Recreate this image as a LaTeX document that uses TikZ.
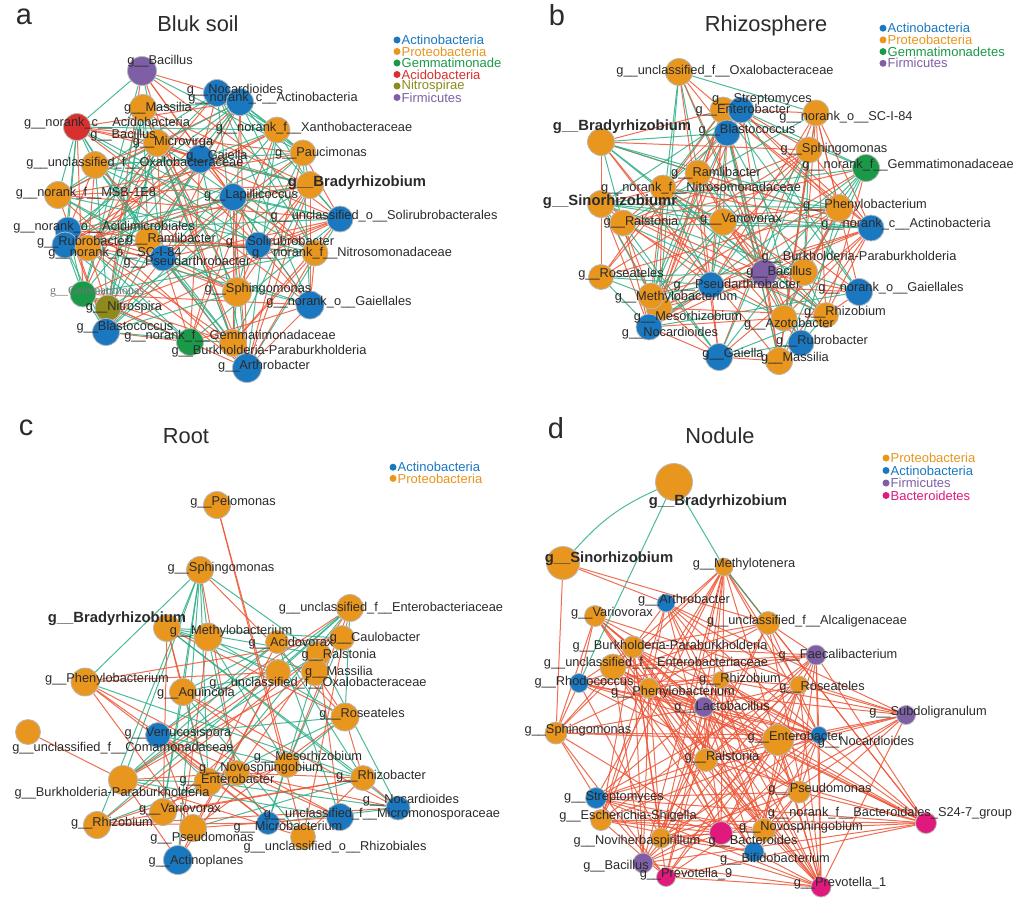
\documentclass[tikz,border=0pt]{standalone}
\usepackage{fontspec}
\setmainfont{Liberation Sans}
\newfontfamily\faintfamily{Liberation Serif}
\usepackage{tikz}
\usetikzlibrary{backgrounds}
\definecolor{actino}{HTML}{1A78C0}
\definecolor{proteo}{HTML}{E8961E}
\definecolor{gemma}{HTML}{1A9A48}
\definecolor{acido}{HTML}{D7302F}
\definecolor{nitro}{HTML}{8E8A1E}
\definecolor{firmi}{HTML}{7E5FA6}
\definecolor{bacter}{HTML}{E0197D}
\definecolor{linkgreen}{HTML}{2FAE86}
\definecolor{linkred}{HTML}{EE5535}
\definecolor{labink}{HTML}{2B2B2B}
\newcommand\labfont{\fontsize{12.8}{14}\selectfont}
\newcommand\boldlab{\fontsize{14.8}{16}\selectfont\bfseries}
\newcommand\faintlab{\faintfamily\fontsize{12}{13}\selectfont\color{black!55}}
\tikzset{
  taxon/.style={circle, draw=black!28, line width=0.8pt, inner sep=0pt, minimum size=#1},
  taxon/.default=27,
  gname/.style={font=\labfont, text=labink, inner sep=0pt},
  poslink/.style={draw=linkgreen, line width=1pt, opacity=0.85},
  neglink/.style={draw=linkred, line width=1pt, opacity=0.85},
  paneltag/.style={font=\fontsize{29}{30}\selectfont, text=labink},
  paneltitle/.style={font=\fontsize{21.8}{24}\selectfont, text=labink, anchor=base},
  legdot/.style={circle, inner sep=0pt, minimum size=7pt},
  legtext/.style={font=\fontsize{13}{13}\selectfont, anchor=west, inner sep=0pt}
}
% circles, then names, of one net
\newcommand{\placetaxa}[1]{%
  \foreach \n/\x/\y/\c/\s/\lx/\ly/\t in #1 {\node[taxon=\s, fill=\c] (\n) at (\x,\y) {};}}
\newcommand{\nametaxa}[1]{%
  \foreach \n/\x/\y/\c/\s/\lx/\ly/\t in #1 {\node[gname] (\n-t) at (\lx,\ly) {\t};}}
% random co-occurrence links between all nodes of one net
\newcommand{\linkall}[4]{%
  \pgfmathsetseed{#4}%
  \foreach \u [count=\i] in #1 {%
    \foreach \v [count=\j] in #1 {%
      \pgfmathrandominteger{\linkdice}{1}{100}%
      \pgfmathrandominteger{\linksign}{1}{100}%
      \pgfmathtruncatemacro{\linkon}{(\j>\i)&&(\linkdice<#2)}%
      \pgfmathtruncatemacro{\linkpos}{\linksign<#3}%
      \ifnum\linkon=1
        \ifnum\linkpos=1
          \draw[poslink] (\u) -- (\v);
        \else
          \draw[neglink] (\u) -- (\v);
        \fi
      \fi}}}

\def\taxaA{aBac/142/71/firmi/29/160/61/g\_\_Bacillus,
  aNoc/217/93/actino/27/235/90/g\_\_Nocardioides,
  aAct/240/102/actino/27/273/98/g\_\_norank\_c\_\_Actinobacteria,
  aMas/143/108/proteo/27/158/108/g\_\_Massilia,
  aAci/77/127/acido/27/107/123/g\_\_norank\_c\_\_Acidobacteria,
  aMic/157/143/proteo/27/173/142/g\_\_Microvirga,
  aXan/277/130/proteo/26/314/128/g\_\_norank\_f\_\_Xanthobacteraceae,
  aGae/200/159/actino/28/217/156/g\_\_Gaiella,
  aPau/303/153/proteo/26/321/153/g\_\_Paucimonas,
  aOxa/95/165/proteo/27/135/163/g\_\_unclassified\_f\_\_Oxalobacteraceae,
  aBra/310/185/proteo/27/357/183/\boldlab g\_\_Bradyrhizobium,
  aMSB/58/195/proteo/27/86/193/g\_\_norank\_f\_\_MSB-1E8,
  aLap/233/197/actino/27/251/195/g\_\_Lapillicoccus,
  aSol/340/219/actino/26/384/216/g\_\_unclassified\_o\_\_Solirubrobacterales,
  aAcm/68/230/actino/26/104/227/g\_\_norank\_o\_\_Acidimicrobiales,
  aRub/65/245/actino/26/83/242/g\_\_Rubrobacter,
  aSCI/88/248/proteo/26/115/253/g\_\_norank\_o\_\_SC-I-84,
  aRam/148/240/proteo/26/171/239/g\_\_Ramlibacter,
  aPse/163/258/actino/26/187/262/g\_\_Pseudarthrobacter,
  aSrb/258/245/actino/26/280/242/g\_\_Solirubrobacter,
  aNit/315/253/proteo/26/352/253/g\_\_norank\_f\_\_Nitrosomonadaceae,
  aGmm/83/294/gemma/26/97/292/\faintlab g\_\_Gemmatimonas,
  aNsp/108/308/nitro/26/124/307/g\_\_Nitrospira,
  aSph/237/292/proteo/29/258/289/g\_\_Sphingomonas,
  aGll/310/305/actino/28/339/302/g\_\_norank\_o\_\_Gaiellales,
  aBla/106/332/actino/27/125/327/g\_\_Blastococcus,
  aGmd/190/342/gemma/27/230/336/g\_\_norank\_f\_\_Gemmatimonadaceae,
  aBur/233/343/proteo/27/269/351/g\_\_Burkholderia-Paraburkholderia,
  aArt/247/368/actino/29/264/366/g\_\_Arthrobacter}
\def\netA{aBac,aNoc,aAct,aMas,aAci,aMic,aXan,aGae,aPau,aOxa,aBra,aMSB,aLap,aSol,aAcm,
  aRub,aSCI,aRam,aPse,aSrb,aNit,aGmm,aNsp,aSph,aGll,aBla,aGmd,aBur,aArt}

\def\taxaB{bOxa/679/72/proteo/27/725/71/g\_\_unclassified\_f\_\_Oxalobacteraceae,
  bEnt/723/110/proteo/26/743/110/g\_\_Enterobacter,
  bStr/741/110/actino/26/762/99/g\_\_Streptomyces,
  bSCI/816/113/proteo/26/846/117/g\_\_norank\_o\_\_SC-I-84,
  bBla/727/133/actino/26/747/130/g\_\_Blastococcus,
  bBra/601/142/proteo/27/622/127/\boldlab g\_\_Bradyrhizobium,
  bSph/809/150/proteo/26/834/149/g\_\_Sphingomonas,
  bGmd/866/168/gemma/27/908/165/g\_\_norank\_f\_\_Gemmatimonadaceae,
  bRam/698/173/proteo/26/716/173/g\_\_Ramlibacter,
  bNit/663/188/proteo/26/701/188/g\_\_norank\_f\_\_Nitrosomonadaceae,
  bSin/601/204/proteo/27/610/202/\boldlab g\_\_Sinorhizobiumr,
  bPhe/839/208/proteo/27/865/205/g\_\_Phenylobacterium,
  bRal/623/223/proteo/26/641/222/g\_\_Ralstonia,
  bVar/723/222/proteo/27/741/219/g\_\_Variovorax,
  bAct/871/228/actino/26/906/224/g\_\_norank\_c\_\_Actinobacteria,
  bBur/804/272/proteo/27/859/257/g\_\_Burkholderia-Paraburkholderia,
  bBac/764/273/firmi/27/779/272/g\_\_Bacillus,
  bRos/601/277/proteo/25/621/274/g\_\_Roseateles,
  bPse/711/285/actino/26/737/285/g\_\_Pseudarthrobacter,
  bGll/859/292/actino/27/891/288/g\_\_norank\_o\_\_Gaiellales,
  bMes/659/308/proteo/26/688/317/g\_\_Mesorhizobium,
  bMet/651/296/proteo/26/676/297/g\_\_Methylobacterium,
  bRhi/826/315/proteo/25/845/312/g\_\_Rhizobium,
  bAzo/784/318/proteo/26/789/324/g\_\_Azotobacter,
  bNoc/649/327/actino/26/670/333/g\_\_Nocardioides,
  bRub/801/343/actino/26/822/341/g\_\_Rubrobacter,
  bGae/719/357/actino/27/733/354/g\_\_Gaiella,
  bMas/779/361/proteo/27/795/358/g\_\_Massilia}
\def\netB{bOxa,bEnt,bStr,bSCI,bBla,bBra,bSph,bGmd,bRam,bNit,bSin,bPhe,bRal,bVar,bAct,
  bBur,bBac,bRos,bPse,bGll,bMes,bMet,bRhi,bAzo,bNoc,bRub,bGae,bMas}

\def\taxaC{cPel/217/505/proteo/27/233/502/g\_\_Pelomonas,
  cSph/200/570/proteo/27/221/568/g\_\_Sphingomonas,
  cEnb/350/608/proteo/27/391/608/g\_\_unclassified\_f\_\_Enterobacteriaceae,
  cBra/167/628/proteo/27/117/619/\boldlab g\_\_Bradyrhizobium,
  cMet/208/637/proteo/28/231/631/g\_\_Methylobacterium,
  cAcv/277/642/proteo/23/291/643/g\_\_Acidovorax,
  cCau/342/638/proteo/25/375/638/g\_\_Caulobacter,
  cRal/318/654/proteo/25/339/655/g\_\_Ralstonia,
  cOxa/278/672/proteo/25/318/683/g\_\_unclassified\_f\_\_Oxalobacteraceae,
  cMas/315/672/proteo/27/339/672/g\_\_Massilia,
  cPhe/85/682/proteo/28/107/679/g\_\_Phenylobacterium,
  cAqu/183/692/proteo/27/196/693/g\_\_Aquincola,
  cRos/345/717/proteo/28/362/714/g\_\_Roseateles,
  cCom/28/732/proteo/25/123/748/g\_\_unclassified\_f\_\_Comamonadaceae,
  cVer/158/735/actino/25/178/733/g\_\_Verrucosispora,
  cMes/287/765/proteo/25/308/757/g\_\_Mesorhizobium,
  cNov/237/773/proteo/25/261/768/g\_\_Novosphingobium,
  cEnt/208/782/proteo/28/227/780/g\_\_Enterobacter,
  cRhb/363/778/proteo/25/381/776/g\_\_Rhizobacter,
  cBur/123/780/proteo/29/112/793/g\_\_Burkholderia-Paraburkholderia,
  cVar/163/812/proteo/27/180/809/g\_\_Variovorax,
  cNoc/398/808/actino/24/411/800/g\_\_Nocardioides,
  cMmo/340/817/actino/27/382/814/g\_\_unclassified\_f\_\_Micromonosporaceae,
  cRhz/97/825/proteo/27/112/823/g\_\_Rhizobium,
  cMcb/268/823/actino/23/288/827/g\_\_Microbacterium,
  cPsd/193/828/proteo/27/202/838/g\_\_Pseudomonas,
  cRhl/303/837/proteo/25/335/847/g\_\_unclassified\_o\_\_Rhizobiales,
  cAcp/178/860/actino/29/196/861/g\_\_Actinoplanes}
\def\netC{cSph,cEnb,cBra,cMet,cAcv,cCau,cRal,cOxa,cMas,cPhe,cAqu,cRos,cVer,cMes,cNov,
  cEnt,cRhb,cBur,cVar,cNoc,cMmo,cRhz,cMcb,cPsd,cRhl,cAcp}

\def\taxaD{dBra/674/482/proteo/37/718/502/\boldlab g\_\_Bradyrhizobium,
  dSin/563/563/proteo/33/609/559/\boldlab g\_\_Sinorhizobium,
  dMty/724/567/proteo/18/744/564/g\_\_Methylotenera,
  dArt/666/603/actino/18/684/600/g\_\_Arthrobacter,
  dVar/595/616/proteo/21/612/613/g\_\_Variovorax,
  dAlc/768/623/proteo/23/807/621/g\_\_unclassified\_f\_\_Alcaligenaceae,
  dBur/633/647/proteo/22/670/646/g\_\_Burkholderia-Paraburkholderia,
  dFae/816/655/firmi/20/838/655/g\_\_Faecalibacterium,
  dEnb/613/667/proteo/26/656/663/g\_\_unclassified\_f\_\_Enterobacteriaceae,
  dRho/579/683/actino/19/584/682/g\_\_Rhodococcus,
  dRhz/721/680/proteo/17/740/679/g\_\_Rhizobium,
  dRos/799/685/proteo/18/822/687/g\_\_Roseateles,
  dPhe/649/688/proteo/20/673/692/g\_\_Phenylobacterium,
  dLac/704/707/firmi/20/722/707/g\_\_Lactobacillus,
  dSub/906/715/firmi/19/928/712/g\_\_Subdoligranulum,
  dSph/556/733/proteo/22/578/730/g\_\_Sphingomonas,
  dEnt/778/740/proteo/31/795/737/g\_\_Enterobacter,
  dNoc/819/735/actino/17/866/742/g\_\_Nocardioides,
  dRal/706/760/proteo/23/722/757/g\_\_Ralstonia,
  dPsd/799/792/proteo/22/820/789/g\_\_Pseudomonas,
  dStr/596/798/actino/21/614/797/g\_\_Streptomyces,
  dEsc/601/820/proteo/21/628/816/g\_\_Escherichia-Shigella,
  dS24/926/823/bacter/21/890/813/g\_\_norank\_f\_\_Bacteroidales\_S24-7\_group,
  dNov/764/830/proteo/23/801/827/g\_\_Novosphingobium,
  dBcd/721/833/bacter/23/753/841/g\_\_Bacteroides,
  dNhb/661/838/proteo/20/637/841/g\_\_Noviherbaspirillum,
  dBif/754/852/actino/20/775/859/g\_\_Bifidobacterium,
  dBac/643/863/firmi/20/616/866/g\_\_Bacillus,
  dPv9/666/877/bacter/19/686/874/g\_\_Prevotella\_9,
  dPv1/821/887/bacter/20/840/883/g\_\_Prevotella\_1}
\def\netD{dMty,dArt,dVar,dAlc,dBur,dFae,dEnb,dRho,dRhz,dRos,dPhe,dLac,dSub,dSph,dEnt,
  dNoc,dRal,dPsd,dStr,dEsc,dS24,dNov,dBcd,dNhb,dBif,dBac,dPv9,dPv1}

\begin{document}
\begin{tikzpicture}[x=1pt,y=-1pt]
  \useasboundingbox (0,0) rectangle (1032,900);

  % nodes of the four nets
  \placetaxa{\taxaA}
  \placetaxa{\taxaB}
  \placetaxa{\taxaC}
  \placetaxa{\taxaD}

  % links under the nodes
  \begin{pgfonlayer}{background}
    \fill[white] (0,0) rectangle (1032,900);
    \linkall{\netA}{50}{52}{11}
    \linkall{\netB}{44}{46}{23}
    \linkall{\netC}{31}{52}{5}
    \linkall{\netD}{47}{0}{31}
    \draw[neglink] (cPel) -- (cMes);
    \draw[neglink] (cPel) -- (cRhl);
    \draw[neglink] (cCom) -- (cBur);
    \draw[poslink] (dBra) to[bend right=12] (dSin);
    \draw[poslink] (dBra) -- (dMty);
    \draw[poslink] (dBra) -- (dRho);
    \draw[poslink] (dMty) -- (dAlc);
    \draw[neglink] (dSin) -- (dArt);
    \draw[neglink] (dSin) -- (dAlc);
    \draw[neglink] (dSin) -- (dSph);
  \end{pgfonlayer}

  % genus labels on top
  \nametaxa{\taxaA}
  \nametaxa{\taxaB}
  \nametaxa{\taxaC}
  \nametaxa{\taxaD}
  \node[gname] (aBacB-t) at (123,135) {g\_\_Bacillus};

  % panel tags and titles
  \node[paneltag] (tagA) at (24,17) {a};
  \node[paneltag] (tagB) at (557,15) {b};
  \node[paneltag] (tagC) at (26,428) {c};
  \node[paneltag] (tagD) at (556,428) {d};
  \node[paneltitle] (titleA) at (198,31) {Bluk soil};
  \node[paneltitle] (titleB) at (766,31) {Rhizosphere};
  \node[paneltitle] (titleC) at (186,443) {Root};
  \node[paneltitle] (titleD) at (720,443) {Nodule};

  % legends
  \foreach \c/\t [count=\k] in {actino/Actinobacteria, proteo/Proteobacteria, gemma/Gemmatimonade,
      acido/Acidobacteria, nitro/Nitrospirae, firmi/Firmicutes} {
    \node[legdot, fill=\c] (legA\k) at (397,{28.5+11.5*\k}) {};
    \node[legtext, text=\c] (legA\k-t) at (401.5,{28.5+11.5*\k}) {\t};
  }
  \foreach \c/\t [count=\k] in {actino/Actinobacteria, proteo/Proteobacteria, gemma/Gemmatimonadetes,
      firmi/Firmicutes} {
    \node[legdot, fill=\c] (legB\k) at (883,{16.5+11.7*\k}) {};
    \node[legtext, text=\c] (legB\k-t) at (887.5,{16.5+11.7*\k}) {\t};
  }
  \foreach \c/\t [count=\k] in {actino/Actinobacteria, proteo/Proteobacteria} {
    \node[legdot, fill=\c] (legC\k) at (393,{456+11.2*\k}) {};
    \node[legtext, text=\c] (legC\k-t) at (397.5,{456+11.2*\k}) {\t};
  }
  \foreach \c/\t [count=\k] in {proteo/Proteobacteria, actino/Actinobacteria, firmi/Firmicutes,
      bacter/Bacteroidetes} {
    \node[legdot, fill=\c] (legD\k) at (886,{445.5+12.5*\k}) {};
    \node[legtext, text=\c] (legD\k-t) at (890.5,{445.5+12.5*\k}) {\t};
  }
\end{tikzpicture}
\end{document}
